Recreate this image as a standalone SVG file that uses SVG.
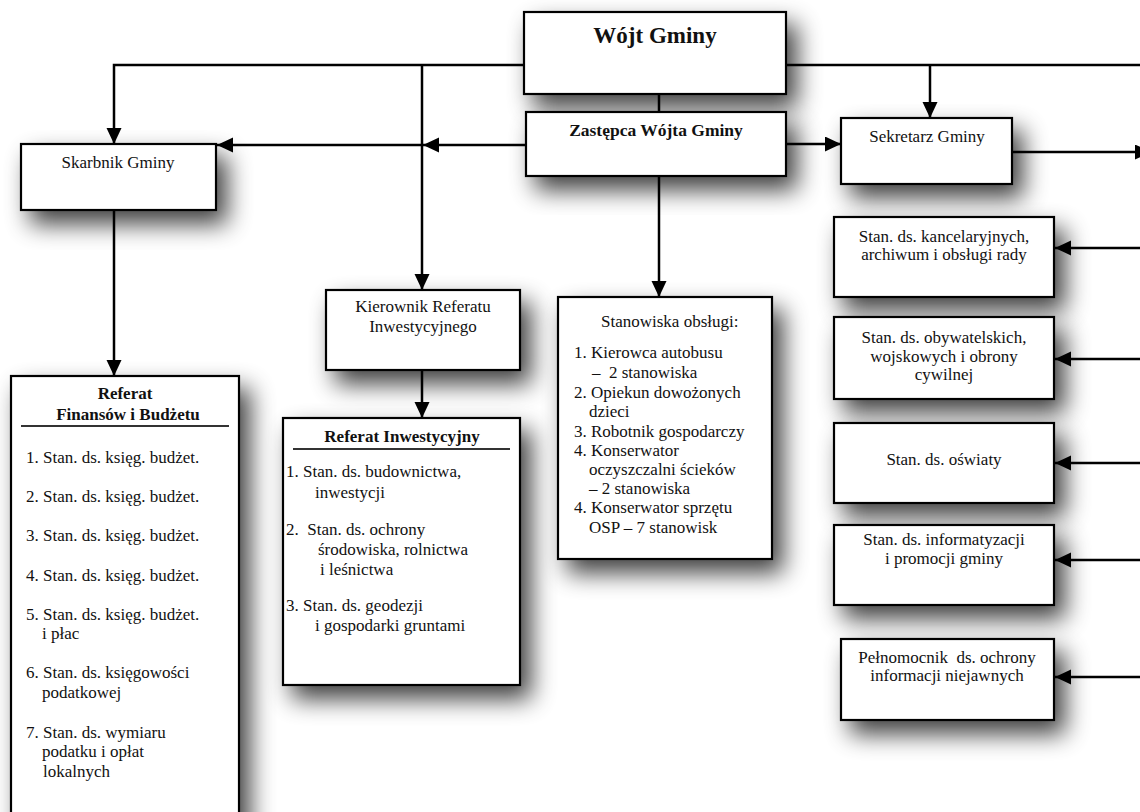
<svg xmlns="http://www.w3.org/2000/svg" width="1140" height="812" viewBox="0 0 1140 812">
<defs>
<style>
.box{fill:#fff;stroke:#000;stroke-width:2.2;filter:url(#sh)}
.t{font-family:"Liberation Serif","Times New Roman",serif;font-size:17px;fill:#111}
.c{text-anchor:middle}
.b{font-weight:bold}
.ln{fill:none;stroke:#000;stroke-width:2.5}
.ar{marker-end:url(#ah)}
.rule{stroke:#333;stroke-width:2.2}
</style>
<filter id="sh" x="-40%" y="-40%" width="190%" height="200%">
<feGaussianBlur in="SourceAlpha" stdDeviation="12"/>
<feOffset dx="10" dy="13" result="o"/>
<feComponentTransfer><feFuncA type="linear" slope="0.75"/></feComponentTransfer>
<feMerge><feMergeNode/><feMergeNode in="SourceGraphic"/></feMerge>
</filter>
<marker id="ah" markerUnits="userSpaceOnUse" markerWidth="18" markerHeight="16" refX="16" refY="7.5" orient="auto">
<path d="M0,0 L16,7.5 L0,15 z" fill="#000"/>
</marker>
</defs>
<rect width="1140" height="812" fill="#fff"/>

<g id="wojt">
<rect class="box" x="524" y="12" width="262" height="82"/>
<text class="t c b" x="655" y="43" style="font-size:23px">Wójt Gminy</text>
</g>

<g id="zastepca">
<rect class="box" x="526" y="112" width="260" height="64"/>
<text class="t c b" x="656" y="136" style="font-size:17.5px">Zastępca Wójta Gminy</text>
</g>

<g id="skarbnik">
<rect class="box" x="21" y="144" width="195" height="66"/>
<text class="t c" x="118" y="168">Skarbnik Gminy</text>
</g>

<g id="sekretarz">
<rect class="box" x="841" y="118" width="171" height="66"/>
<text class="t c" x="927" y="142">Sekretarz Gminy</text>
</g>

<g id="kierownik">
<rect class="box" x="326" y="290" width="194" height="80"/>
<text class="t c" x="423" y="312">Kierownik Referatu</text>
<text class="t c" x="423" y="332">Inwestycyjnego</text>
</g>

<g id="referat-finansow">
<rect class="box" x="11" y="376" width="228" height="460"/>
<text class="t c b" x="125" y="399">Referat</text>
<text class="t c b" x="128" y="420">Finansów i Budżetu</text>
<line class="rule" x1="21" y1="426" x2="229" y2="426"/>
<text class="t" x="26" y="463">1. Stan. ds. księg. budżet.</text>
<text class="t" x="26" y="502">2. Stan. ds. księg. budżet.</text>
<text class="t" x="26" y="541">3. Stan. ds. księg. budżet.</text>
<text class="t" x="26" y="581">4. Stan. ds. księg. budżet.</text>
<text class="t" x="26" y="620">5. Stan. ds. księg. budżet.</text>
<text class="t" x="42" y="639">i płac</text>
<text class="t" x="26" y="678">6. Stan. ds. księgowości</text>
<text class="t" x="42" y="698">podatkowej</text>
<text class="t" x="26" y="738">7. Stan. ds. wymiaru</text>
<text class="t" x="42" y="757">podatku i opłat</text>
<text class="t" x="43" y="777">lokalnych</text>
</g>

<g id="referat-inwestycyjny">
<rect class="box" x="283" y="418" width="237" height="267"/>
<text class="t c b" x="402" y="442">Referat Inwestycyjny</text>
<line class="rule" x1="293" y1="449" x2="510" y2="449"/>
<text class="t" x="286" y="477">1. Stan. ds. budownictwa,</text>
<text class="t" x="315" y="498">inwestycji</text>
<text class="t" x="286" y="535" style="white-space:pre">2.  Stan. ds. ochrony</text>
<text class="t" x="318" y="555">środowiska, rolnictwa</text>
<text class="t" x="320" y="575">i leśnictwa</text>
<text class="t" x="286" y="611">3. Stan. ds. geodezji</text>
<text class="t" x="315" y="631">i gospodarki gruntami</text>
</g>

<g id="stanowiska-obslugi">
<rect class="box" x="558" y="297" width="214" height="262"/>
<text class="t" x="601" y="327">Stanowiska obsługi:</text>
<text class="t" x="574" y="358">1. Kierowca autobusu</text>
<text class="t" x="592" y="378" style="white-space:pre">–  2 stanowiska</text>
<text class="t" x="574" y="398">2. Opiekun dowożonych</text>
<text class="t" x="589" y="417">dzieci</text>
<text class="t" x="574" y="437">3. Robotnik gospodarczy</text>
<text class="t" x="574" y="456">4. Konserwator</text>
<text class="t" x="589" y="475">oczyszczalni ścieków</text>
<text class="t" x="589" y="494">– 2 stanowiska</text>
<text class="t" x="574" y="513">4. Konserwator sprzętu</text>
<text class="t" x="589" y="533">OSP – 7 stanowisk</text>
</g>

<g id="stan-kancelaryjnych">
<rect class="box" x="834" y="217" width="220" height="80"/>
<text class="t c" x="944" y="242">Stan. ds. kancelaryjnych,</text>
<text class="t c" x="944" y="260">archiwum i obsługi rady</text>
</g>

<g id="stan-obywatelskich">
<rect class="box" x="834" y="317" width="220" height="82"/>
<text class="t c" x="944" y="343">Stan. ds. obywatelskich,</text>
<text class="t c" x="944" y="362">wojskowych i obrony</text>
<text class="t c" x="944" y="380">cywilnej</text>
</g>

<g id="stan-oswiaty">
<rect class="box" x="834" y="423" width="220" height="80"/>
<text class="t c" x="944" y="465">Stan. ds. oświaty</text>
</g>

<g id="stan-informatyzacji">
<rect class="box" x="834" y="525" width="220" height="80"/>
<text class="t c" x="944" y="545">Stan. ds. informatyzacji</text>
<text class="t c" x="944" y="564">i promocji gminy</text>
</g>

<g id="pelnomocnik">
<rect class="box" x="841" y="639" width="213" height="81"/>
<text class="t c" x="947" y="663" style="white-space:pre">Pełnomocnik  ds. ochrony</text>
<text class="t c" x="947" y="681">informacji niejawnych</text>
</g>

<g id="connectors">
<polyline class="ln ar" points="524,65 114,65 114,144"/>
<line class="ln ar" x1="422" y1="65" x2="422" y2="290"/>
<line class="ln" x1="786" y1="65" x2="1140" y2="65"/>
<line class="ln ar" x1="930" y1="65" x2="930" y2="118"/>
<line class="ln" x1="659" y1="94" x2="659" y2="112"/>
<line class="ln ar" x1="526" y1="145" x2="423" y2="145"/>
<line class="ln ar" x1="423" y1="145" x2="217" y2="145"/>
<line class="ln ar" x1="786" y1="144" x2="841" y2="144"/>
<line class="ln ar" x1="659" y1="176" x2="659" y2="297"/>
<line class="ln ar" x1="114" y1="210" x2="114" y2="376"/>
<line class="ln ar" x1="422" y1="370" x2="422" y2="418"/>
<line class="ln ar" x1="1012" y1="152" x2="1151" y2="152"/>
<line class="ln ar" x1="1140" y1="248" x2="1055" y2="248"/>
<line class="ln ar" x1="1140" y1="359" x2="1055" y2="359"/>
<line class="ln ar" x1="1140" y1="463" x2="1055" y2="463"/>
<line class="ln ar" x1="1140" y1="560" x2="1055" y2="560"/>
<line class="ln ar" x1="1140" y1="677" x2="1055" y2="677"/>
</g>
</svg>
